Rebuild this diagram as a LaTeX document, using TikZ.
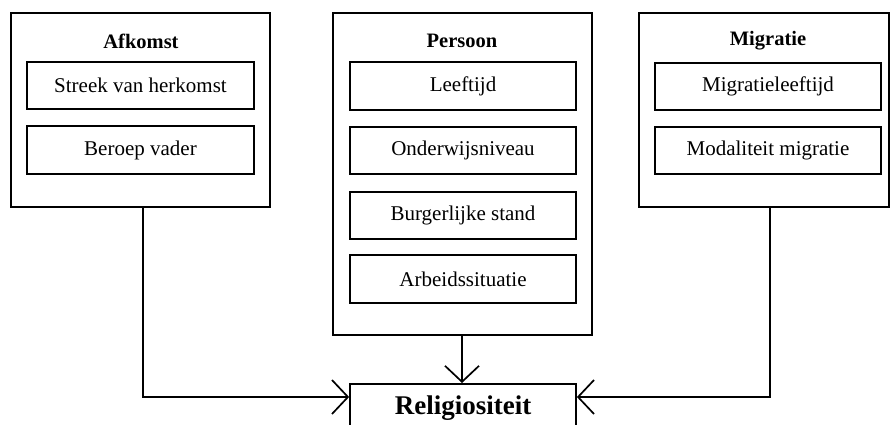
\documentclass[tikz,border=0pt]{standalone}
\usepackage{fontspec}
\setmainfont{Liberation Serif}
\usetikzlibrary{arrows.meta}
\begin{document}
\begin{tikzpicture}[x=1pt,y=-1pt,line width=1.7pt,
  innerbox/.style={draw,rectangle,inner sep=0pt,font=\fontsize{21}{23}\selectfont},
  ttl/.style={font=\bfseries\fontsize{20.5}{23}\selectfont},
  arr/.style={-{Straight Barb[length=16pt,width=34pt,line width=1.7pt]}}]
\useasboundingbox (0,0) rectangle (891,425);
% outer boxes
\draw (11,13) rectangle (270,207);
\draw (333,13) rectangle (592,335);
\draw (639,13) rectangle (889,207);
\coordinate (afb) at (143,207);
\coordinate (peb) at (462,335);
\coordinate (mib) at (770,207);
% titles
\node[ttl] (aft) at (141,41) {Afkomst};
\node[ttl] (pet) at (462,41) {Persoon};
\node[ttl] (mit) at (768,41) {Migratie};
% inner boxes
\node[innerbox,minimum width=227pt,minimum height=47pt] (streek) at (140.5,85.5) {Streek van herkomst};
\node[innerbox,minimum width=227pt,minimum height=48pt] (beroep) at (140.5,150) {Beroep vader};
\node[innerbox,minimum width=226pt,minimum height=48pt] (leef) at (463,86) {Leeftijd};
\node[innerbox,minimum width=226pt,minimum height=47pt] (onder) at (463,150.5) {Onderwijsniveau};
\node[innerbox,minimum width=226pt,minimum height=47pt] (burg) at (463,215.5) {Burgerlijke stand};
\node[innerbox,minimum width=226pt,minimum height=48pt] (arbeid) at (463,279) {Arbeidssituatie};
\node[innerbox,minimum width=226pt,minimum height=47pt] (migl) at (768,86.5) {Migratieleeftijd};
\node[innerbox,minimum width=226pt,minimum height=47pt] (moda) at (768,150.5) {Modaliteit migratie};
% target
\node[draw,rectangle,inner sep=0pt,minimum width=226pt,minimum height=60pt,anchor=north] (rel) at (463,383) {};
\node[font=\bfseries\fontsize{27}{29}\selectfont] (reltxt) at (463,408) {Religiositeit};
% connectors
\draw[arr] (afb) |- (rel.west |- 0,397);
\draw[arr] (mib) |- (rel.east |- 0,397);
\draw[arr] (peb) -- (rel.north -| peb);
\end{tikzpicture}
\end{document}
